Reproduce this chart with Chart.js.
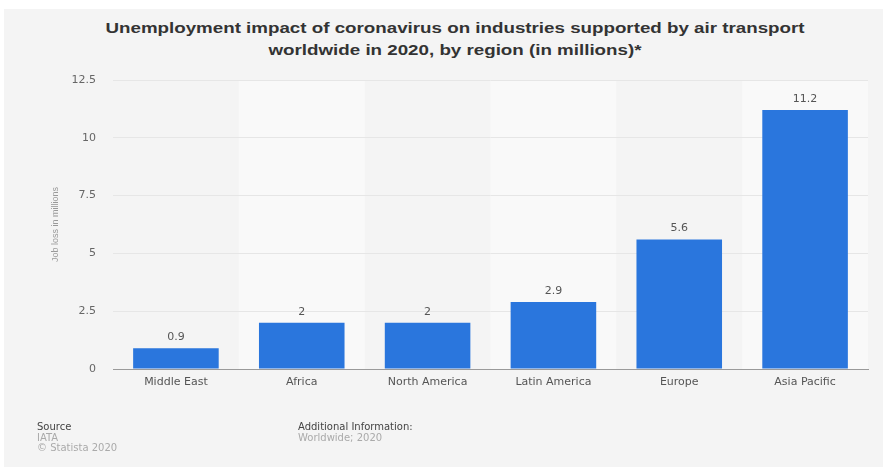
<!DOCTYPE html>
<html>
<head>
<meta charset="utf-8">
<script src="https://cdn.jsdelivr.net/npm/chart.js@4"></script>
<style>
    html, body { margin: 0; padding: 0; background: #ffffff; }
    body { width: 883px; height: 467px; position: relative; overflow: hidden; font-family: 'Liberation Sans', Arial, sans-serif; }
    #panel { position: absolute; left: 4px; top: 9px; right: 0; bottom: 0; background: #f4f4f4; }
    #title { position: absolute; left: 55px; width: 800px; top: 17px; text-align: center; font-weight: bold; font-size: 15px; line-height: 22px; color: #333; transform: scaleX(1.25); transform-origin: 400px 0; }
    #wrap { position: absolute; left: 0; top: 0; width: 883px; height: 467px; }
    .foot { position: absolute; font-family: 'DejaVu Sans', sans-serif; font-size: 10px; line-height: 10.5px; color: #aaa; }
    .foot b { color: #444; font-weight: normal; }
</style>
</head>
<body>
<div id="panel"></div>
<div id="title">Unemployment impact of coronavirus on industries supported by air transport<br>worldwide in 2020, by region (in millions)*</div>
<div id="wrap"><canvas id="chart" width="883" height="467"></canvas></div>
<div class="foot" style="left:37px; top:422px;"><b>Source</b><br>IATA<br>© Statista 2020</div>
<div class="foot" style="left:298px; top:422px;"><b>Additional Information:</b><br>Worldwide; 2020</div>
<script>
// Dane
const regions = ['Middle East', 'Africa', 'North America', 'Latin America', 'Europe', 'Asia Pacific'];
const jobLoss = [0.9, 2, 2, 2.9, 5.6, 11.2];
const yTicks = [0, 2.5, 5, 7.5, 10, 12.5];

// Jaśniejsze pasy co drugą kategorię
const bandsPlugin = {
    id: 'bands',
    beforeDraw(chart) {
        const { ctx, chartArea, scales } = chart;
        const step = (chartArea.right - chartArea.left) / regions.length;
        ctx.save();
        ctx.fillStyle = '#f9f9f9';
        regions.forEach((r, i) => {
            if (i % 2 === 1) {
                const cx = scales.x.getPixelForValue(i);
                ctx.fillRect(cx - step / 2, chartArea.top, step, chartArea.bottom - chartArea.top);
            }
        });
        ctx.restore();
    }
};

// Wartości nad słupkami
const valuesPlugin = {
    id: 'values',
    afterDatasetsDraw(chart) {
        const { ctx } = chart;
        const meta = chart.getDatasetMeta(0);
        ctx.save();
        ctx.font = '11px "DejaVu Sans", sans-serif';
        ctx.fillStyle = '#555';
        ctx.textAlign = 'center';
        ctx.textBaseline = 'middle';
        meta.data.forEach((bar, i) => {
            ctx.fillText(String(jobLoss[i]), bar.x, bar.y - 11);
        });
        ctx.restore();
    }
};

new Chart(document.getElementById('chart'), {
    type: 'bar',
    data: {
        labels: regions,
        datasets: [{
            label: 'Job loss in millions',
            data: jobLoss,
            backgroundColor: '#2a76dd',
            categoryPercentage: 1,
            barPercentage: 0.68
        }]
    },
    options: {
        responsive: false,
        animation: false,
        layout: { padding: { top: 80, right: 15, left: 0, bottom: 0 } },
        scales: {
            x: {
                grid: { display: false, drawTicks: false },
                border: { display: true, color: '#9a9a9a', width: 1 },
                ticks: { color: '#555', padding: 7, font: { family: 'DejaVu Sans', size: 11 } },
                afterFit: s => { s.height = 98; }
            },
            y: {
                min: 0,
                max: 12.5,
                afterBuildTicks: s => { s.ticks = yTicks.map(v => ({ value: v })); },
                grid: { color: '#e6e6e6', drawTicks: false },
                border: { display: false },
                ticks: { color: '#666', padding: 17, font: { family: 'DejaVu Sans', size: 11 } },
                title: {
                    display: true,
                    text: 'Job loss in millions',
                    color: '#999',
                    padding: { top: 50, bottom: 0 },
                    font: { family: 'Liberation Sans', size: 9 }
                },
                afterFit: s => { s.width = 113; }
            }
        },
        plugins: {
            legend: { display: false },
            tooltip: { enabled: false }
        }
    },
    plugins: [bandsPlugin, valuesPlugin]
});
</script>
</body>
</html>
